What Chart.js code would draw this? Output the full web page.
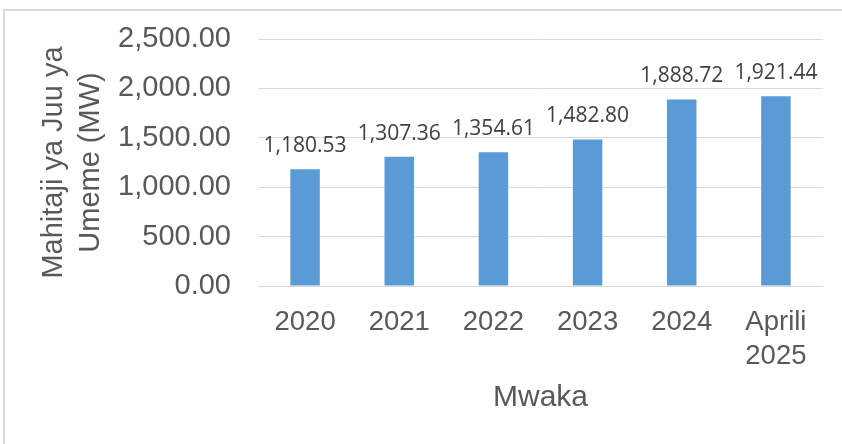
<!DOCTYPE html>
<html>
<head>
    <meta charset="utf-8" />
    <title>Mahitaji ya Juu ya Umeme</title>
    <style>
        body {
            margin: 0;
            overflow: hidden;
            background: #fff;
        }
        #frame {
            position: absolute;
            left: 3px;
            top: 9px;
            width: 900px;
            height: 500px;
            border-left: 2px solid #d9d9d9;
            border-top: 2px solid #d9d9d9;
        }
        #chartCanvas {
            position: absolute;
            left: 0;
            top: 0;
        }
    </style>
</head>

<body>
    <div id="frame"></div>
    <canvas id="chartCanvas" width="842" height="444"></canvas>

    <script src="https://cdn.jsdelivr.net/npm/chart.js@4.4.1/dist/chart.umd.min.js"></script>
    <script>
        // data
        var years = ["2020", "2021", "2022", "2023", "2024", ["Aprili", "2025"]];
        var demandMW = [1180.53, 1307.36, 1354.61, 1482.80, 1888.72, 1921.44];
        var yMin = 0;
        var yMax = 2500;
        var yStep = 500;

        function fmt(v) {
            return v.toLocaleString('en-US', { minimumFractionDigits: 2, maximumFractionDigits: 2 });
        }

        // value labels above each bar
        var barLabels = {
            id: 'barLabels',
            afterDatasetsDraw: function (chart) {
                var ctx = chart.ctx;
                var meta = chart.getDatasetMeta(0);
                ctx.save();
                ctx.font = '21px "Open Sans"';
                ctx.fillStyle = '#404040';
                ctx.textAlign = 'center';
                ctx.textBaseline = 'alphabetic';
                meta.data.forEach(function (bar, i) {
                    ctx.fillText(fmt(demandMW[i]), bar.x, bar.y - 17);
                });
                ctx.restore();
            }
        };

        var ctx_1 = document.getElementById("chartCanvas").getContext("2d");
        var chart1 = new Chart(ctx_1, {
            type: 'bar',
            data: {
                labels: years,
                datasets: [{
                    data: demandMW,
                    backgroundColor: '#5b9bd5',
                    borderWidth: 0,
                    categoryPercentage: 1,
                    barPercentage: 0.313
                }]
            },
            options: {
                responsive: false,
                animation: false,
                layout: {
                    padding: { left: 0, right: 19, top: 39, bottom: 0 }
                },
                plugins: {
                    legend: { display: false },
                    tooltip: { enabled: false }
                },
                scales: {
                    x: {
                        grid: { display: false, drawTicks: false },
                        border: { display: false },
                        ticks: {
                            color: '#595959',
                            font: { family: '"Liberation Sans", Arial', size: 27.5, lineHeight: 1.24 },
                            padding: 19,
                            maxRotation: 0,
                            autoSkip: false
                        },
                        title: {
                            display: true,
                            text: 'Mwaka',
                            color: '#595959',
                            font: { family: '"Liberation Sans", Arial', size: 30, lineHeight: 1.2 },
                            padding: { top: 0, bottom: 28.5 }
                        },
                        afterFit: function (scale) {
                            scale.height = 444 - 286;
                        }
                    },
                    y: {
                        min: yMin,
                        max: yMax,
                        grid: { color: '#d9d9d9', lineWidth: 1, drawTicks: false },
                        border: { display: false },
                        ticks: {
                            stepSize: yStep,
                            color: '#595959',
                            // small lineHeight keeps the label overflow from pushing the plot top down
                            font: { family: '"Liberation Sans", Arial', size: 29, lineHeight: 0.8 },
                            padding: 27,
                            callback: function (v) { return fmt(v); }
                        },
                        title: {
                            display: true,
                            text: ['Mahitaji ya Juu ya', 'Umeme (MW)'],
                            color: '#595959',
                            font: { family: '"Liberation Sans", Arial', size: 29, lineHeight: 1.276 },
                            padding: { top: 35.5, bottom: 0 }
                        },
                        afterFit: function (scale) {
                            scale.width = 258;
                        }
                    }
                }
            },
            plugins: [barLabels]
        });
    </script>
</body>
</html>
